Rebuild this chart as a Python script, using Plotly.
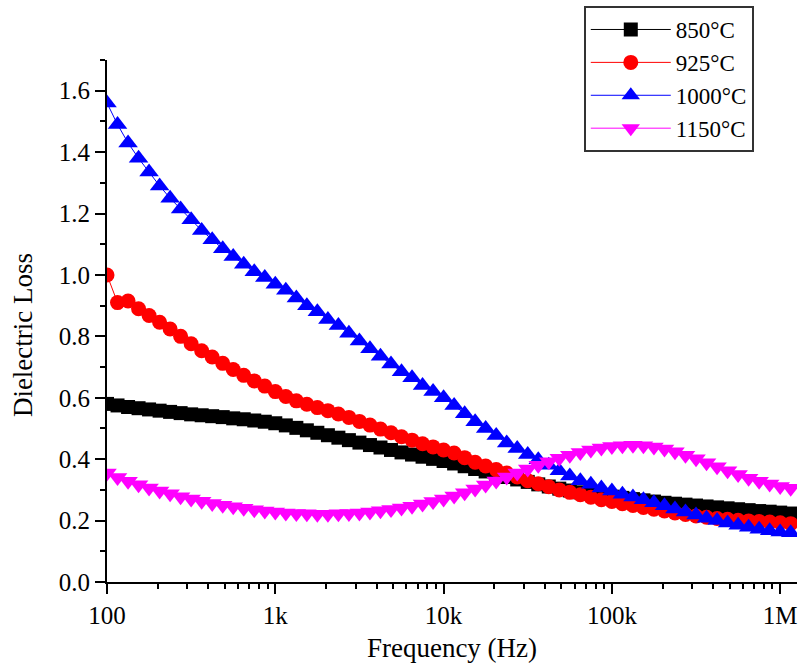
import plotly.graph_objects as go

# Frequencies (Hz)
freq_hz = [100, 115.5, 133.4, 154, 177.8, 205.4, 237.1, 273.8, 316.2, 365.2, 421.7, 487, 562.3, 649.4, 749.9, 866,
           1000, 1155, 1334, 1540, 1778, 2054, 2371, 2738, 3162, 3652, 4217, 4870, 5623, 6494, 7499, 8660,
           10000, 11550, 13340, 15400, 17780, 20540, 23710, 27380, 31620, 36520, 42170, 48700, 56230, 64940, 74990, 86600,
           100000, 115500, 133400, 154000, 177800, 205400, 237100, 273800, 316200, 365200, 421700, 487000, 562300, 649400, 749900, 866000,
           1000000, 1155000]

loss_850 = [0.580, 0.575, 0.570, 0.566, 0.562, 0.558, 0.554, 0.550, 0.546, 0.543, 0.540, 0.537, 0.533, 0.530, 0.526, 0.522,
            0.517, 0.510, 0.502, 0.494, 0.486, 0.478, 0.470, 0.462, 0.454, 0.446, 0.438, 0.430, 0.422, 0.415, 0.408, 0.401,
            0.394, 0.386, 0.377, 0.368, 0.360, 0.351, 0.342, 0.334, 0.326, 0.318, 0.311, 0.304, 0.298, 0.292, 0.287, 0.282,
            0.278, 0.274, 0.270, 0.266, 0.262, 0.258, 0.255, 0.252, 0.249, 0.246, 0.243, 0.240, 0.237, 0.234, 0.231, 0.229,
            0.226, 0.223]

loss_925 = [1.000, 0.910, 0.915, 0.890, 0.868, 0.846, 0.824, 0.800, 0.776, 0.753, 0.733, 0.712, 0.692, 0.673, 0.655, 0.638,
            0.620, 0.604, 0.590, 0.579, 0.568, 0.558, 0.547, 0.536, 0.523, 0.511, 0.498, 0.486, 0.473, 0.462, 0.450, 0.440,
            0.430, 0.420, 0.405, 0.390, 0.378, 0.366, 0.355, 0.342, 0.330, 0.320, 0.310, 0.300, 0.292, 0.284, 0.276, 0.268,
            0.262, 0.255, 0.249, 0.243, 0.237, 0.231, 0.225, 0.220, 0.215, 0.211, 0.207, 0.204, 0.201, 0.199, 0.197, 0.195,
            0.193, 0.190]

loss_1000 = [1.560, 1.490, 1.430, 1.380, 1.335, 1.290, 1.250, 1.215, 1.180, 1.145, 1.115, 1.085, 1.060, 1.035, 1.010, 0.992,
             0.970, 0.950, 0.925, 0.900, 0.880, 0.855, 0.835, 0.810, 0.785, 0.760, 0.735, 0.710, 0.685, 0.665, 0.640, 0.620,
             0.600, 0.575, 0.548, 0.522, 0.500, 0.477, 0.453, 0.435, 0.415, 0.398, 0.380, 0.362, 0.345, 0.330, 0.318, 0.306,
             0.296, 0.286, 0.277, 0.268, 0.258, 0.248, 0.238, 0.228, 0.218, 0.208, 0.200, 0.192, 0.185, 0.178, 0.172, 0.167,
             0.163, 0.160]

loss_1150 = [0.355, 0.340, 0.328, 0.317, 0.306, 0.296, 0.287, 0.278, 0.270, 0.263, 0.256, 0.250, 0.245, 0.240, 0.235, 0.231,
             0.228, 0.225, 0.223, 0.222, 0.221, 0.221, 0.222, 0.223, 0.225, 0.228, 0.232, 0.236, 0.241, 0.247, 0.254, 0.262,
             0.270, 0.280, 0.291, 0.303, 0.316, 0.329, 0.342, 0.355, 0.368, 0.380, 0.392, 0.403, 0.413, 0.422, 0.430, 0.436,
             0.441, 0.444, 0.445, 0.444, 0.440, 0.433, 0.424, 0.413, 0.401, 0.388, 0.375, 0.362, 0.350, 0.338, 0.328, 0.319,
             0.311, 0.305]

series = [
    ("850°C", loss_850, "#000000", "square", 14),
    ("925°C", loss_925, "#ff0000", "circle", 15),
    ("1000°C", loss_1000, "#0000ff", "triangle-up", 17),
    ("1150°C", loss_1150, "#ff00ff", "triangle-down", 17),
]

x_tickvals = [100, 1000, 10000, 100000, 1000000]
x_ticktext = ["100", "1k", "10k", "100k", "1M"]

FONT = "Liberation Serif, Times New Roman, serif"

fig = go.Figure()
for name, vals, color, sym, sz in series:
    fig.add_trace(go.Scatter(
        x=freq_hz, y=vals, name=name, mode="lines+markers",
        line=dict(color=color, width=1),
        marker=dict(symbol=sym, size=sz, color=color, line=dict(width=0)),
    ))

fig.update_layout(
    width=800, height=667,
    margin=dict(l=107, r=3, t=60, b=85, autoexpand=False),
    paper_bgcolor="white", plot_bgcolor="white",
    font=dict(family=FONT, size=25, color="black"),
    showlegend=True,
    legend=dict(
        x=0.691, y=1.1034, xanchor="left", yanchor="top",
        bordercolor="#333333", borderwidth=2, bgcolor="white",
        font=dict(family=FONT, size=23, color="black"),
        tracegroupgap=0, itemwidth=80,
    ),
    annotations=[dict(
        text="Dielectric Loss", xref="paper", yref="paper",
        x=-0.1217, y=0.473, xanchor="center", yanchor="middle",
        textangle=-90, showarrow=False,
        font=dict(family=FONT, size=27, color="black"),
    )],
)

fig.update_xaxes(
    type="log", range=[2, 6.1], automargin=False,
    tickvals=x_tickvals, ticktext=x_ticktext,
    ticks="outside", ticklen=10, tickwidth=2, tickcolor="black",
    showline=True, linecolor="black", linewidth=2,
    showgrid=False, zeroline=False,
    tickfont=dict(family=FONT, size=25),
    minor=dict(ticks="outside", ticklen=5, tickwidth=2, tickcolor="black", dtick="D1", showgrid=False),
    title=dict(text="Frequency (Hz)", font=dict(family=FONT, size=27), standoff=10),
)

fig.update_yaxes(
    range=[0, 1.7], dtick=0.2, tick0=0, tickformat=".1f", automargin=False,
    ticks="outside", ticklen=10, tickwidth=2, tickcolor="black",
    showline=True, linecolor="black", linewidth=2,
    showgrid=False, zeroline=False,
    tickfont=dict(family=FONT, size=25),
    minor=dict(ticks="outside", ticklen=5, tickwidth=2, tickcolor="black", dtick=0.1, showgrid=False),
)

fig.write_html("out.html", config={"displayModeBar": False},
               post_script="document.body.style.margin='0';")
